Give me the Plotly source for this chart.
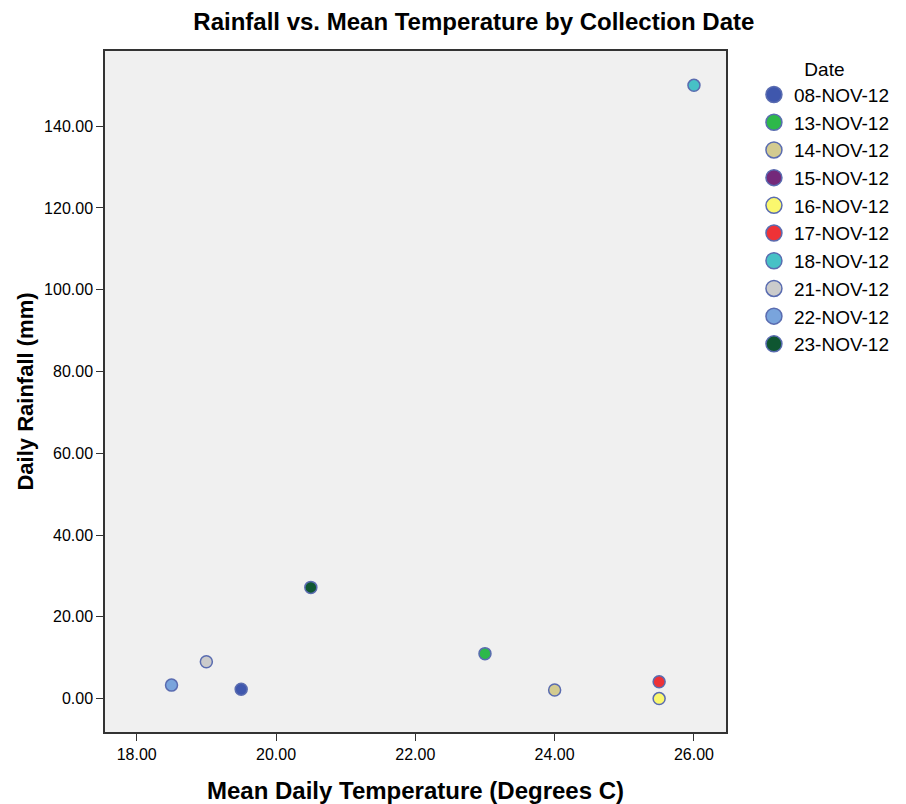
import plotly.graph_objects as go

dates = ["08-NOV-12", "13-NOV-12", "14-NOV-12", "15-NOV-12", "16-NOV-12",
         "17-NOV-12", "18-NOV-12", "21-NOV-12", "22-NOV-12", "23-NOV-12"]
temps = [[19.5], [23.0], [24.0], [], [25.5], [25.5], [26.0], [19.0], [18.5], [20.5]]
rain = [[2.3], [11.0], [2.1], [], [0.0], [4.1], [150.0], [9.0], [3.3], [27.2]]
colors = ["#3f57ad", "#2db84a", "#d3cb90", "#74297a", "#faf76e",
          "#ee3237", "#47c1c6", "#cbcbcb", "#79a4dc", "#0f5631"]

x_ticks = [18, 20, 22, 24, 26]
y_ticks = [0, 20, 40, 60, 80, 100, 120, 140]

edge = "#5a6cb0"
fig = go.Figure()
for d, xs, ys, c in zip(dates, temps, rain, colors):
    # data marks
    fig.add_trace(go.Scatter(
        x=xs, y=ys, mode="markers", name=d, legendgroup=d, showlegend=False,
        marker=dict(size=12, color=c, line=dict(color=edge, width=1.5)),
    ))
    # legend entry (larger symbol, no visible mark)
    fig.add_trace(go.Scatter(
        x=[None], y=[None], mode="markers", name=d, legendgroup=d, showlegend=True,
        marker=dict(size=16, color=c, line=dict(color=edge, width=1.5)),
    ))

fig.update_layout(
    width=906, height=804,
    margin=dict(l=105, r=180, t=51, b=72, autoexpand=False),
    paper_bgcolor="white", plot_bgcolor="#f0f0f0",
    font=dict(family="Liberation Sans, Arial, sans-serif", color="black"),
    title=dict(text="<b>Rainfall vs. Mean Temperature by Collection Date</b>",
               x=0.523, xanchor="center", y=0.9726, yanchor="middle",
               font=dict(size=24)),
    legend=dict(x=1.045, xanchor="left", y=1.0, yanchor="top",
                font=dict(size=19), itemsizing="trace", tracegroupgap=0,
                title=dict(text="Date", side="top center", font=dict(size=19)),
                bgcolor="rgba(0,0,0,0)", itemwidth=30),
    showlegend=True,
)
fig.update_xaxes(
    range=[17.545, 26.46], tickvals=x_ticks, tickformat=".2f", automargin=False,
    showgrid=False, zeroline=False, showline=True, linecolor="#333", linewidth=1.5,
    mirror=True, ticks="outside", ticklen=7, tickcolor="#333",
    tickfont=dict(size=16),
    title=dict(text="<b>Mean Daily Temperature (Degrees C)</b>", font=dict(size=24), standoff=22),
)
fig.update_yaxes(
    range=[-8.17, 158.4], tickvals=y_ticks, tickformat=".2f", automargin=False,
    showgrid=False, zeroline=False, showline=True, linecolor="#333", linewidth=1.5,
    mirror=True, ticks="outside", ticklen=7, tickcolor="#333",
    tickfont=dict(size=16),
    title=dict(text="<b>Daily Rainfall (mm)</b>", font=dict(size=22), standoff=4),
)

fig.write_html("out.html")
